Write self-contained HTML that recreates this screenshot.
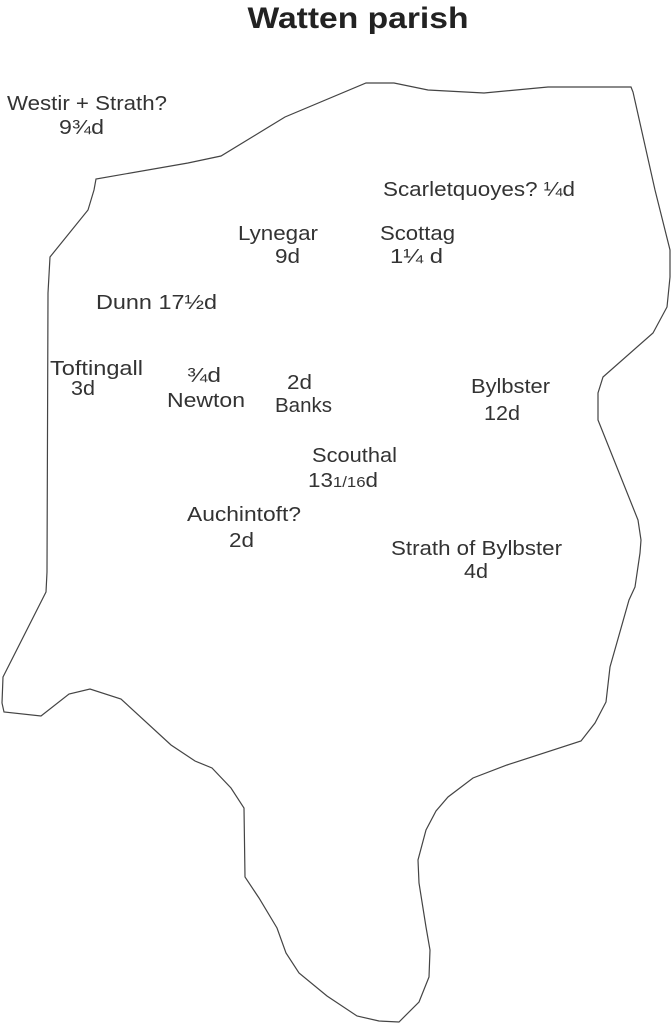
<!DOCTYPE html>
<html><head><meta charset="utf-8"><style>
html,body{margin:0;padding:0;background:#fff;}
svg{display:block;}
text{font-family:"Liberation Sans",sans-serif;fill:#333;font-size:20px;}
</style></head><body>
<svg width="671" height="1024" viewBox="0 0 671 1024" xmlns="http://www.w3.org/2000/svg">
<text x="358" y="28" text-anchor="middle" textLength="221" lengthAdjust="spacingAndGlyphs" style="fill:#222;font-size:30px;font-weight:bold">Watten parish</text>
<polygon fill="none" stroke="#444" stroke-width="1.2" points="366,83 394,83 428,90 484,93 548,87 631,87 633,92 655,190 670,250 670,277 667,307 653,333 603,377 598,393 598,420 638,520 641,540 640,553 635,587 629,600 610,667 606,702 595,723 581,741 507,765 473,778 448,797 436,811 426,830 418,860 419,883 426,927 430,950 429,977 419,1002 399,1022 379,1021 357,1016 327,996 299,973 286,953 277,928 259,898 245,877 244,808 231,788 212,768 195,761 171,745 121,699 90,689 69,694 41,716 4,712 2,703 3,677 46,592 47,572 48,293 50,257 88,210 94,190 96,179 188,163 221,156 285,117"/>
<text x="7" y="110" textLength="160" lengthAdjust="spacingAndGlyphs">Westir + Strath?</text>
<text x="59" y="134" textLength="45" lengthAdjust="spacingAndGlyphs">9¾d</text>
<text x="383" y="196" textLength="192" lengthAdjust="spacingAndGlyphs">Scarletquoyes?  ¼d</text>
<text x="238" y="240" textLength="80" lengthAdjust="spacingAndGlyphs">Lynegar</text>
<text x="275" y="263" textLength="25" lengthAdjust="spacingAndGlyphs">9d</text>
<text x="380" y="240" textLength="75" lengthAdjust="spacingAndGlyphs">Scottag</text>
<text x="390" y="263" textLength="53" lengthAdjust="spacingAndGlyphs">1¼ d</text>
<text x="96" y="309" textLength="121" lengthAdjust="spacingAndGlyphs">Dunn  17½d</text>
<text x="50" y="375" textLength="93" lengthAdjust="spacingAndGlyphs">Toftingall</text>
<text x="71" y="395" textLength="24" lengthAdjust="spacingAndGlyphs">3d</text>
<text x="187" y="382" textLength="34" lengthAdjust="spacingAndGlyphs">¾d</text>
<text x="167" y="407" textLength="78" lengthAdjust="spacingAndGlyphs">Newton</text>
<text x="287" y="389" textLength="25" lengthAdjust="spacingAndGlyphs">2d</text>
<text x="275" y="412" textLength="57" lengthAdjust="spacingAndGlyphs">Banks</text>
<text x="471" y="393" textLength="79" lengthAdjust="spacingAndGlyphs">Bylbster</text>
<text x="484" y="420" textLength="36" lengthAdjust="spacingAndGlyphs">12d</text>
<text x="312" y="462" textLength="85" lengthAdjust="spacingAndGlyphs">Scouthal</text>
<text x="308" y="487" textLength="70" lengthAdjust="spacingAndGlyphs">13<tspan style="font-size:15px">1/16</tspan>d</text>
<text x="187" y="521" textLength="114" lengthAdjust="spacingAndGlyphs">Auchintoft?</text>
<text x="229" y="547" textLength="25" lengthAdjust="spacingAndGlyphs">2d</text>
<text x="391" y="555" textLength="171" lengthAdjust="spacingAndGlyphs">Strath of Bylbster</text>
<text x="464" y="578" textLength="24" lengthAdjust="spacingAndGlyphs">4d</text>
</svg>
</body></html>
